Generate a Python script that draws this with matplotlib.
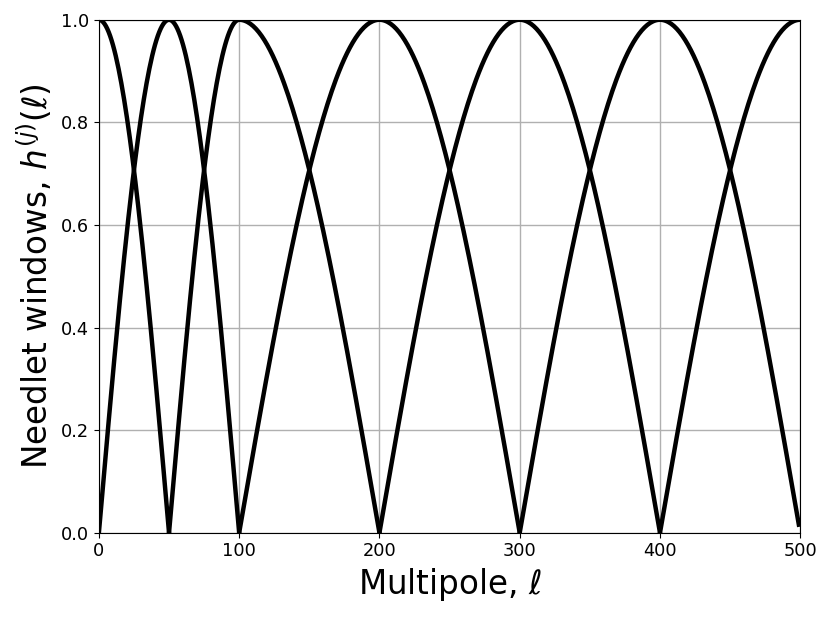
import numpy as np
import matplotlib
matplotlib.use("Agg")
import matplotlib.pyplot as plt

# picos das janelas cosseno (multipolos)
picos = [0, 50, 100, 200, 300, 400, 500]
lmax = 500


def janela_cos(ell, picos, j):
    """Janela de needlet cosseno centrada em picos[j] (NaN fora do suporte)."""
    h = np.full(ell.shape, np.nan)
    lp = picos[j]
    if j > 0:
        la = picos[j - 1]
        m = (ell >= la) & (ell <= lp)
        h[m] = np.cos(0.5 * np.pi * (lp - ell[m]) / (lp - la))
    if j < len(picos) - 1:
        lb = picos[j + 1]
        m = (ell >= lp) & (ell <= lb)
        h[m] = np.cos(0.5 * np.pi * (ell[m] - lp) / (lb - lp))
    return h


ell = np.arange(0, lmax)

fig = plt.figure(figsize=(8.31, 6.18), dpi=100)
ax = fig.add_axes([0.119, 0.138, 0.844, 0.830])
for j in range(len(picos)):
    ax.plot(ell, janela_cos(ell, picos, j), color='k', lw=3.2)

ax.set_xlim(0, 500)
ax.set_ylim(0, 1)
ax.grid(True, color='#b0b0b0', lw=1)
ax.set_axisbelow(True)
ax.tick_params(labelsize=12.8)
ax.set_xlabel(r"Multipole, $\ell$", fontsize=23.5)
ax.set_ylabel(r"Needlet windows, $h^{(j)}(\ell)$", fontsize=23.5)

fig.savefig("out.png", dpi=100)
